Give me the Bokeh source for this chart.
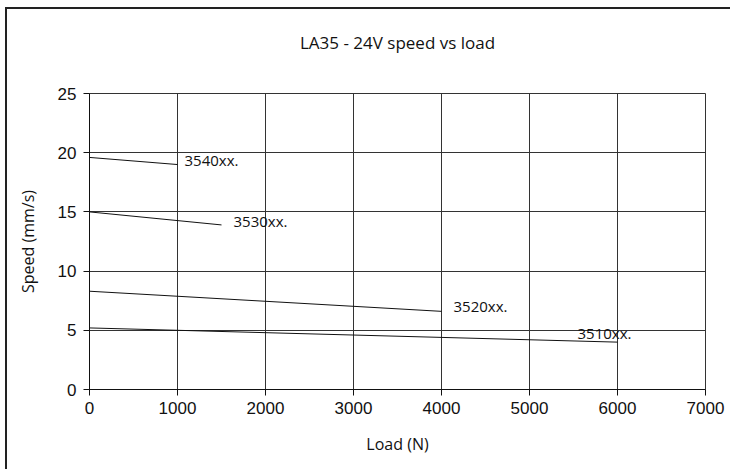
from bokeh.plotting import figure
from bokeh.models import ColumnDataSource, Range1d, FixedTicker
from bokeh.core.properties import value
from bokeh.embed import file_html
from bokeh.resources import INLINE

# Data
title_text = "LA35 - 24V speed vs load"
series_names = ["3540xx.", "3530xx.", "3520xx.", "3510xx."]
load_start = [0, 0, 0, 0]
load_end = [1000, 1500, 4000, 6000]
speed_start = [19.6, 15.0, 8.3, 5.2]
speed_end = [19.0, 13.9, 6.6, 4.0]
x_ticks = [0, 1000, 2000, 3000, 4000, 5000, 6000, 7000]
y_ticks = [0, 5, 10, 15, 20, 25]

# label placement (screen pixel offsets from line end)
label_dx = [7, 12, 12, -40]
label_dy = [-5, -4, -5, -9]

p = figure(width=725, height=462, output_backend="svg", toolbar_location=None,
           x_range=Range1d(0, 7000), y_range=Range1d(0, 25),
           min_border_left=82, min_border_right=27, min_border_top=84, min_border_bottom=82)
# outer chart border: only its top and left edges fall inside the picture
p.styles = {"margin-left": "5px", "margin-top": "7px",
            "border-left": "2px solid #222", "border-top": "2px solid #222"}

# an empty second line lifts the title higher above the plot area
p.title.text = title_text + "\n "
p.title.align = "center"
p.title.text_font = "Open Sans"
p.title.text_font_size = "17px"
p.title.text_font_style = "normal"
p.title.text_color = "#111"
p.title.standoff = 34

for ax in (p.xaxis, p.yaxis):
    ax.axis_line_color = "#111"
    ax.major_tick_line_color = "#111"
    ax.minor_tick_line_color = None
    ax.major_tick_in = 0
    ax.major_tick_out = 6
    ax.major_label_text_font = "Liberation Sans"
    ax.major_label_text_font_size = "17px"
    ax.major_label_text_color = "#111"
    ax.axis_label_text_font = "Open Sans"
    ax.axis_label_text_font_size = "16px"
    ax.axis_label_text_font_style = "normal"
    ax.axis_label_text_color = "#111"
    ax.axis_label_standoff = 16

p.xaxis.ticker = FixedTicker(ticks=x_ticks)
p.yaxis.ticker = FixedTicker(ticks=y_ticks)
p.xaxis.axis_label = "Load (N)"
p.yaxis.axis_label = "Speed (mm/s)"
p.xaxis.major_label_standoff = 6
p.yaxis.major_label_standoff = 7

p.xgrid.ticker = FixedTicker(ticks=x_ticks)
p.ygrid.ticker = FixedTicker(ticks=y_ticks)
for g in (p.xgrid, p.ygrid):
    g.grid_line_color = "#333"
    g.grid_line_width = 1

p.outline_line_color = "#333"
p.background_fill_color = "white"
p.border_fill_color = "white"

src = ColumnDataSource(dict(x0=load_start, x1=load_end, y0=speed_start, y1=speed_end))
p.segment(x0="x0", y0="y0", x1="x1", y1="y1", source=src, line_color="#111", line_width=1)

for i, nm in enumerate(series_names):
    p.text(x=[load_end[i]], y=[speed_end[i]], text=[nm], x_offset=label_dx[i], y_offset=label_dy[i],
           text_font=value("Open Sans"), text_font_size="15px", text_color="#111",
           text_align="left", text_baseline="middle")

open("out.html", "w").write(file_html(p, INLINE))
